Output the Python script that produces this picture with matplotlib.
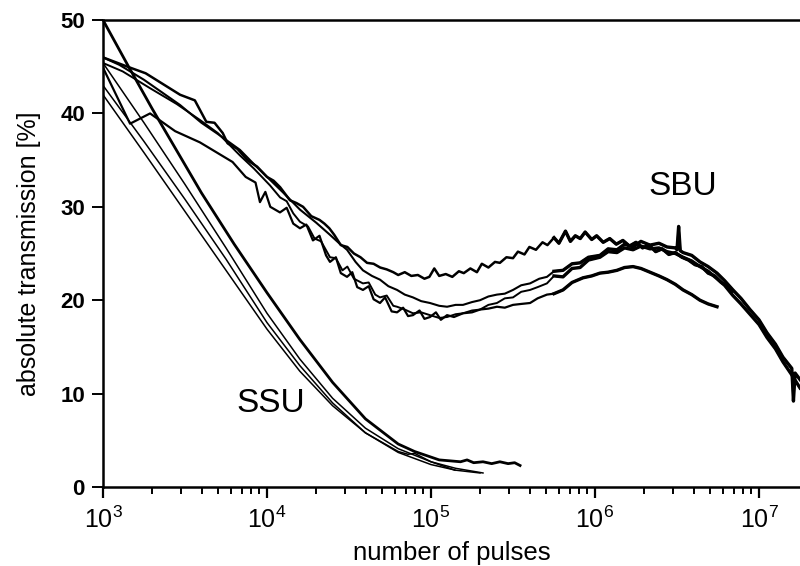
import numpy as np
import matplotlib
matplotlib.use("Agg")
import matplotlib.pyplot as plt
from matplotlib.ticker import LogLocator, FixedLocator

plt.rcParams["font.family"] = ["Liberation Sans", "DejaVu Sans"]
plt.rcParams["mathtext.fontset"] = "custom"
plt.rcParams["mathtext.rm"] = "Liberation Sans"
plt.rcParams["mathtext.it"] = "Liberation Sans"

# curves: (log10 of number of pulses, transmission %)
ssu_1 = [(3.00, 50.0), (3.15, 45.2), (3.30, 40.5), (3.45, 36.0), (3.60, 31.5), (3.80, 26.0),
         (4.00, 20.8), (4.20, 15.8), (4.40, 11.2), (4.60, 7.3), (4.80, 4.6), (4.90, 3.8),
         (5.00, 3.2), (5.05, 2.9), (5.116, 2.8), (5.18, 2.7), (5.22, 2.9), (5.26, 2.6),
         (5.317, 2.7), (5.37, 2.5), (5.42, 2.7), (5.47, 2.5), (5.51, 2.6), (5.543, 2.3)]
ssu_2 = [(3.00, 45.4), (3.25, 39.0), (3.50, 32.4), (3.75, 25.6), (4.00, 18.6), (4.20, 13.7),
         (4.40, 9.5), (4.60, 6.3), (4.80, 4.1), (5.00, 2.7), (5.15, 2.0), (5.317, 1.5)]
ssu_3 = [(3.00, 43.0), (3.25, 37.0), (3.50, 30.8), (3.75, 24.4), (4.00, 17.6), (4.20, 13.0),
         (4.40, 9.0), (4.60, 5.8), (4.80, 3.7), (5.00, 2.4), (5.15, 1.8), (5.299, 1.5)]
ssu_4 = [(3.00, 42.0), (3.25, 35.8), (3.50, 29.5), (3.75, 23.2), (4.00, 16.9), (4.20, 12.4),
         (4.40, 8.7), (4.60, 5.8), (4.80, 3.8), (4.86, 3.5), (4.90, 3.6), (5.00, 2.7),
         (5.146, 1.8)]

sbu_1 = [(3.00, 46.0), (3.15, 45.0), (3.26, 44.3), (3.47, 42.0), (3.56, 41.4), (3.63, 39.1),
         (3.68, 39.0), (3.73, 37.9), (3.76, 36.8), (3.82, 36.2), (3.88, 35.0), (3.94, 34.3),
         (4.00, 33.2), (4.04, 32.8), (4.08, 32.1), (4.14, 30.7), (4.18, 30.4), (4.22, 30.0),
         (4.27, 29.0), (4.32, 28.6), (4.35, 28.2), (4.38, 27.7), (4.41, 27.0), (4.45, 25.9),
         (4.49, 25.7), (4.53, 25.0), (4.57, 24.6), (4.61, 24.0), (4.65, 23.9), (4.69, 23.5),
         (4.73, 23.3), (4.77, 23.0), (4.80, 22.7), (4.84, 23.0), (4.88, 22.6), (4.92, 22.7),
         (4.96, 22.3), (4.99, 22.5), (5.02, 23.4), (5.05, 22.6), (5.09, 22.8), (5.13, 22.5),
         (5.17, 23.1), (5.20, 22.9), (5.24, 23.4), (5.28, 23.0), (5.31, 23.9), (5.35, 23.5),
         (5.39, 24.1), (5.42, 24.0), (5.46, 24.6), (5.50, 24.5), (5.53, 25.2), (5.57, 24.9),
         (5.60, 25.7), (5.64, 25.4), (5.68, 26.2), (5.71, 25.9), (5.75, 26.7), (5.78, 26.1),
         (5.82, 27.4), (5.85, 26.3), (5.88, 26.9), (5.91, 26.6), (5.94, 27.3), (5.98, 26.5),
         (6.01, 26.9), (6.05, 26.2), (6.09, 26.6), (6.13, 26.0), (6.17, 26.4), (6.21, 25.8),
         (6.25, 26.2), (6.29, 25.6), (6.33, 25.9), (6.37, 25.2), (6.41, 25.5), (6.45, 24.9),
         (6.49, 25.1), (6.53, 24.6), (6.57, 24.3), (6.61, 23.8), (6.65, 23.6), (6.69, 22.9),
         (6.73, 22.6), (6.77, 21.9), (6.81, 21.5), (6.84, 21.0)]
sbu_2 = [(3.00, 46.0), (3.10, 45.2), (3.25, 43.6), (3.47, 40.9), (3.60, 39.0), (3.70, 37.8),
         (3.835, 36.1), (3.93, 34.4), (4.018, 32.9), (4.10, 31.5), (4.201, 29.7), (4.30, 28.3),
         (4.384, 27.0), (4.44, 26.1), (4.488, 25.4), (4.54, 24.1), (4.585, 23.2), (4.64, 22.6),
         (4.689, 22.2), (4.74, 21.5), (4.793, 21.1), (4.84, 20.6), (4.89, 20.3), (4.94, 19.9),
         (4.994, 19.7), (5.05, 19.4), (5.098, 19.3), (5.15, 19.5), (5.195, 19.5), (5.25, 19.8),
         (5.299, 20.0), (5.35, 20.4), (5.402, 20.6), (5.45, 20.7), (5.50, 21.1), (5.55, 21.6),
         (5.604, 21.8), (5.66, 22.3), (5.707, 22.5), (5.75, 23.1), (5.805, 23.2), (5.86, 23.9),
         (5.909, 24.0), (5.96, 24.6), (6.03, 24.8), (6.08, 25.5), (6.134, 25.4), (6.18, 26.0),
         (6.232, 25.7), (6.28, 26.3), (6.335, 25.9), (6.39, 26.1), (6.439, 25.7), (6.49, 25.6),
         (6.50, 25.4), (6.51, 27.9), (6.52, 25.3), (6.537, 25.1), (6.59, 24.8), (6.64, 24.1),
         (6.69, 23.6), (6.744, 22.9), (6.79, 22.1), (6.841, 21.1), (6.89, 20.2), (6.945, 19.0),
         (7.00, 17.9), (7.049, 16.5), (7.10, 15.3), (7.146, 13.9), (7.20, 12.7), (7.21, 9.2),
         (7.22, 12.2), (7.25, 11.5)]
sbu_3 = [(3.00, 45.4), (3.12, 44.5), (3.287, 42.7), (3.45, 41.0), (3.591, 39.3), (3.70, 37.9),
         (3.835, 35.5), (3.92, 34.1), (4.018, 32.3), (4.08, 31.0), (4.12, 30.6), (4.16, 29.3),
         (4.201, 28.4), (4.25, 27.9), (4.29, 26.6), (4.33, 26.3), (4.384, 24.6), (4.42, 24.5),
         (4.46, 23.2), (4.49, 23.6), (4.53, 22.3), (4.585, 21.8), (4.62, 21.9), (4.66, 20.6),
         (4.689, 20.3), (4.73, 20.5), (4.77, 19.4), (4.793, 19.3), (4.84, 19.0), (4.89, 18.6),
         (4.94, 18.7), (4.994, 18.4), (5.05, 18.1), (5.098, 18.2), (5.15, 18.5), (5.195, 18.6),
         (5.25, 18.9), (5.299, 19.0), (5.35, 19.5), (5.402, 19.7), (5.45, 20.2), (5.50, 20.3),
         (5.55, 20.9), (5.604, 21.1), (5.65, 21.4), (5.707, 21.8), (5.75, 22.6), (5.805, 22.5),
         (5.86, 23.4), (5.909, 23.5), (5.96, 24.3), (6.03, 24.6), (6.08, 25.2), (6.134, 25.1),
         (6.18, 25.6), (6.232, 25.4), (6.28, 25.8), (6.335, 25.5), (6.39, 25.6), (6.439, 25.2),
         (6.49, 25.0), (6.537, 24.6), (6.59, 24.2), (6.64, 23.6), (6.69, 23.1), (6.744, 22.3),
         (6.79, 21.6), (6.841, 20.5), (6.89, 19.6), (6.945, 18.5), (7.00, 17.4), (7.049, 16.0),
         (7.10, 14.8), (7.146, 13.4), (7.20, 12.0), (7.25, 10.6)]
sbu_4 = [(3.00, 44.9), (3.165, 38.9), (3.287, 40.0), (3.44, 38.1), (3.591, 36.9), (3.79, 34.8),
         (3.87, 33.2), (3.93, 32.6), (3.957, 30.5), (3.99, 31.6), (4.02, 30.0), (4.079, 29.4),
         (4.12, 29.9), (4.16, 28.2), (4.201, 27.7), (4.24, 28.1), (4.28, 26.4), (4.32, 26.9),
         (4.36, 24.8), (4.384, 24.1), (4.42, 24.6), (4.45, 22.9), (4.488, 22.5), (4.52, 23.0),
         (4.55, 21.4), (4.585, 21.1), (4.62, 21.5), (4.65, 20.1), (4.689, 19.7), (4.72, 20.3),
         (4.76, 18.8), (4.793, 18.7), (4.83, 19.2), (4.86, 18.3), (4.89, 18.4), (4.93, 18.9),
         (4.96, 18.0), (4.994, 18.2), (5.03, 18.7), (5.06, 17.9), (5.098, 18.4), (5.14, 18.2),
         (5.195, 18.6), (5.25, 18.7), (5.299, 19.0), (5.35, 19.1), (5.402, 19.3), (5.45, 19.2),
         (5.50, 19.5), (5.55, 19.6), (5.604, 19.7), (5.65, 20.2), (5.707, 20.6), (5.75, 20.7),
         (5.805, 21.1), (5.86, 21.9), (5.927, 22.4), (5.98, 22.6), (6.03, 22.9), (6.08, 23.0),
         (6.134, 23.2), (6.18, 23.5), (6.232, 23.6), (6.28, 23.4), (6.335, 23.0), (6.39, 22.6),
         (6.439, 22.2), (6.49, 21.7), (6.537, 21.1), (6.59, 20.6), (6.64, 20.0), (6.69, 19.6),
         (6.744, 19.3)]

ssu_curves = [ssu_1, ssu_2, ssu_3, ssu_4]
ssu_widths = [2.0, 1.1, 1.1, 1.1]
sbu_curves = [sbu_1, sbu_2, sbu_3, sbu_4]
sbu_widths = [1.8, 1.5, 1.4, 1.6]
noisy_from = 5.75     # beyond this the measured traces are a thick noisy band

y_ticks = [0, 10, 20, 30, 40, 50]
x_decades = [3, 4, 5, 6, 7]
x_max_exp = 7.25

fig = plt.figure(figsize=(8, 5.66), dpi=100)
ax = fig.add_axes([0.12875, 0.1396, 0.87125, 0.825])

for curve, lw in zip(ssu_curves, ssu_widths):
    e, v = np.array(curve).T
    ax.plot(np.power(10.0, e), v, color="black", lw=lw)
for curve, lw in zip(sbu_curves, sbu_widths):
    e, v = np.array(curve).T
    ax.plot(np.power(10.0, e), v, color="black", lw=lw)
    m = e >= noisy_from
    ax.plot(np.power(10.0, e[m]), v[m], color="black", lw=2.4)

ax.set_xscale("log")
ax.set_xlim(10 ** 3, 10 ** x_max_exp)
ax.set_ylim(0, 50)

ax.xaxis.set_major_locator(FixedLocator([10.0 ** d for d in x_decades]))
ax.xaxis.set_minor_locator(LogLocator(base=10, subs=np.arange(2, 10), numticks=20))
ax.set_xticklabels([r"$\mathregular{10^{%d}}$" % d for d in x_decades])
ax.set_yticks(y_ticks)
ax.set_yticklabels([str(t) for t in y_ticks], fontweight="bold")

ax.tick_params(axis="x", which="major", direction="out", length=8, width=1.6,
               labelsize=18, pad=6)
ax.tick_params(axis="x", which="minor", direction="out", length=5, width=1.4)
ax.tick_params(axis="y", which="major", direction="out", length=8, width=1.4,
               labelsize=16, pad=5)

for side in ["left", "bottom", "top"]:
    ax.spines[side].set_linewidth(1.8)
ax.spines["right"].set_visible(False)

ax.set_xlabel("number of pulses", fontsize=18.5, labelpad=6)
ax.set_ylabel("absolute transmission [%]", fontsize=18, labelpad=14)

ax.text(10 ** 4.024, 8.9, "SSU", fontsize=24, ha="center", va="center")
ax.text(10 ** 6.537, 32.2, "SBU", fontsize=24, ha="center", va="center")

fig.savefig("out.png", dpi=100)
